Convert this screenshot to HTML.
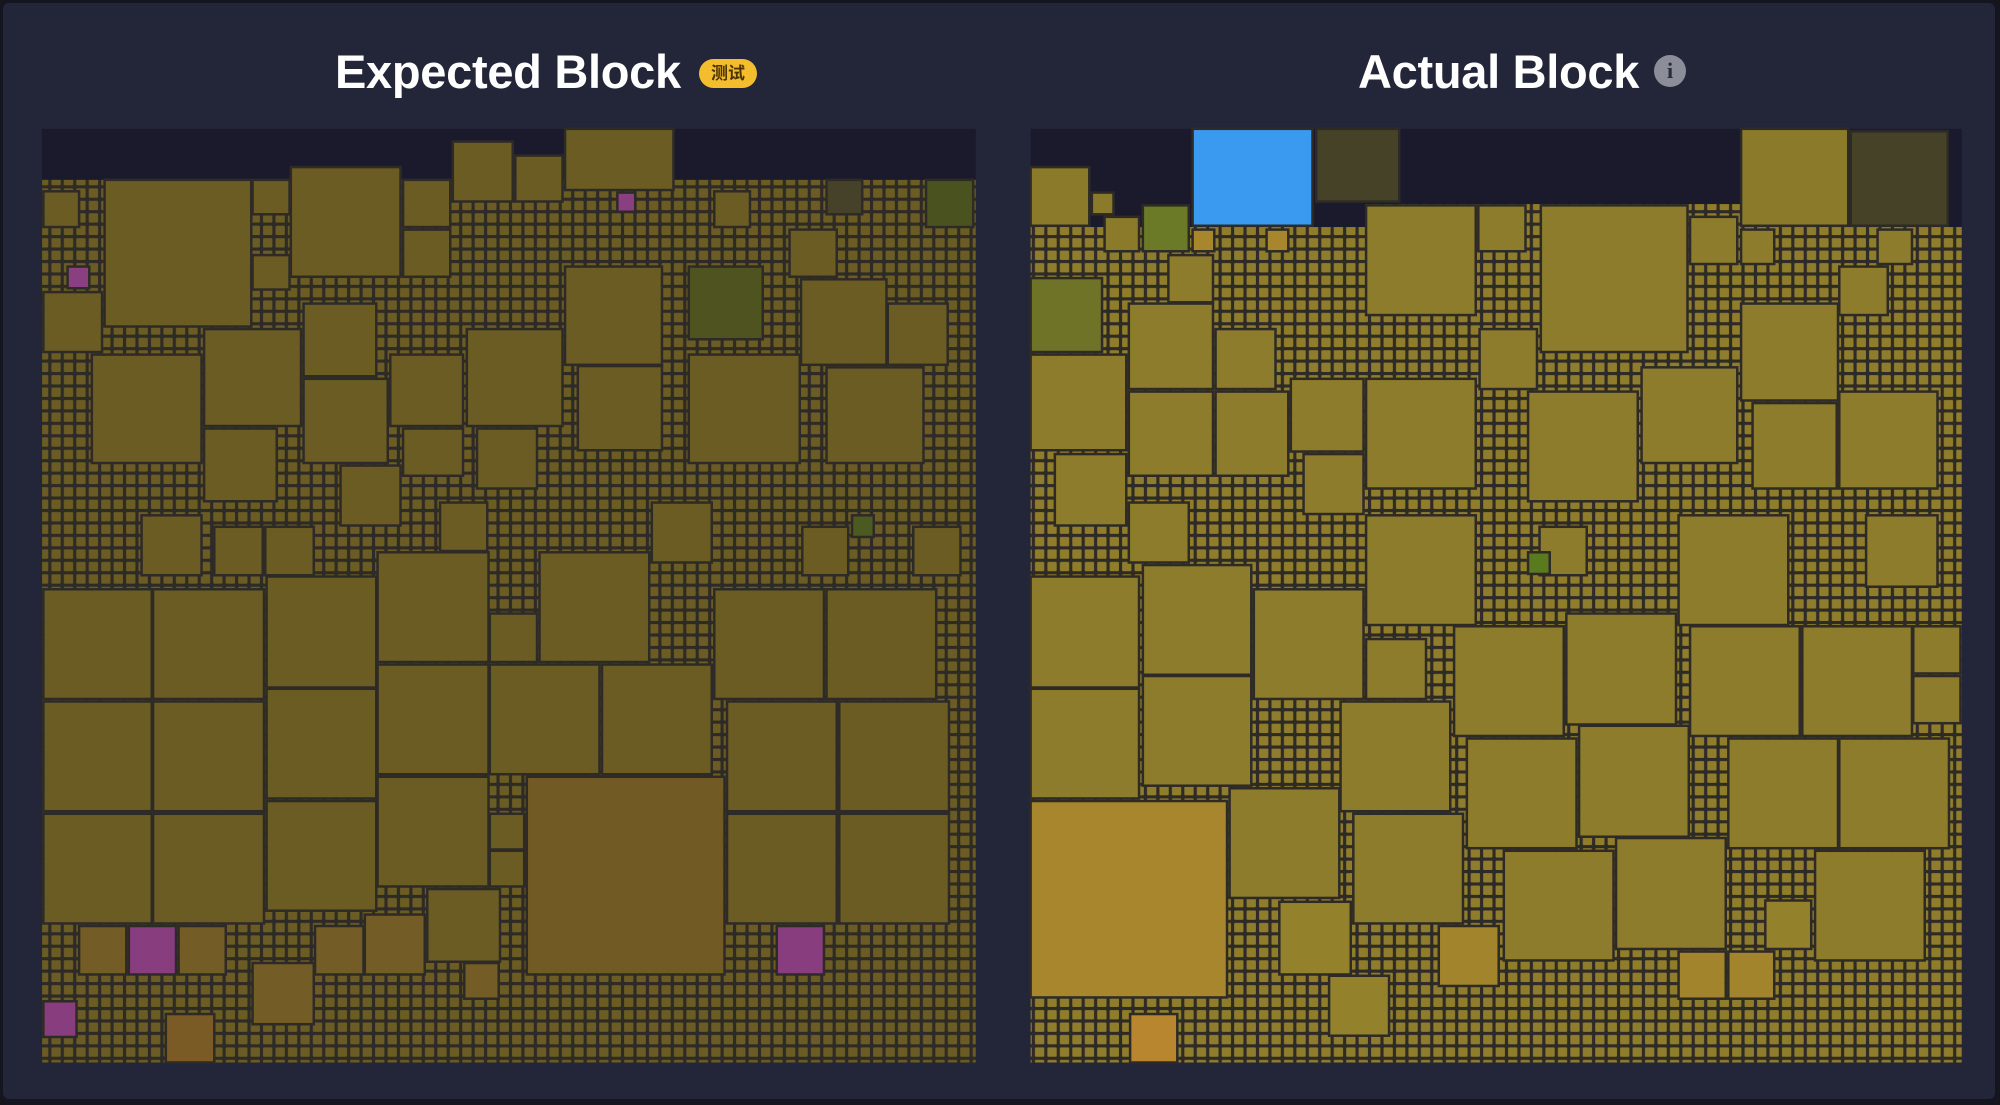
<!DOCTYPE html>
<html><head><meta charset="utf-8">
<style>
html,body{margin:0;padding:0;background:#14151f;}
body{width:2000px;height:1105px;overflow:hidden;font-family:"Liberation Sans","Noto Sans CJK SC",sans-serif;}
#frame{position:absolute;left:3px;top:3px;width:1992px;height:1096px;background:#232639;border-radius:6px;}
.title{position:absolute;top:44px;color:#fff;font-weight:bold;font-size:47px;letter-spacing:-0.3px;}
</style></head>
<body>
<div id="frame"></div>
<div class="title" style="left:335px">Expected Block</div>
<div style="position:absolute;left:699px;top:59px;width:58px;height:29px;border-radius:15px;background:#f3bd2e;color:#4a3400;font-size:17px;font-weight:bold;text-align:center;line-height:29px;">测试</div>
<div class="title" style="left:1358px">Actual Block</div>
<div style="position:absolute;left:1654px;top:55px;width:32px;height:32px;border-radius:50%;background:#8b8d99;color:#2a2c3a;font-size:22px;font-weight:bold;text-align:center;line-height:32px;font-family:'Liberation Serif',serif;">i</div>
<svg id="chart" width="2000" height="1105" style="position:absolute;left:0;top:0"></svg>
<script>
const S = 2000/1568;
// panel regions (thumbnail units)
const leftPanel = [33,101,765,833];
const rightPanel = [808,101,1538,833];
// tile-start skylines [x1,x2,yStart]
const leftSky = [[33,765,141]];
const rightSky = [[808,1071,178],[1071,1365,160],[1365,1538,178]];
// blocks [x1,y1,x2,y2,color]
const leftBlocks = [
[355,111,402,158,'#6b5c23'],[404,122,441,158,'#6b5c23'],[443,101,528,149,'#6b5c23'],
[82,141,197,256,'#6b5c23'],[228,131,314,217,'#6b5c23'],[316,141,353,178,'#6b5c23'],[316,180,353,217,'#6b5c23'],
[198,141,227,168,'#6b5c23'],[198,200,227,227,'#6b5c23'],[34,229,80,276,'#6b5c23'],[34,150,62,178,'#6b5c23'],
[443,209,519,286,'#6b5c23'],[540,209,598,266,'#4f5320'],[628,219,695,286,'#6b5c23'],[696,238,743,286,'#6b5c23'],
[560,150,588,178,'#6b5c23'],[619,180,656,217,'#6b5c23'],[726,141,763,178,'#4a5220'],[648,141,676,168,'#46422a'],
[238,238,295,295,'#6b5c23'],[160,258,236,334,'#6b5c23'],[72,278,158,363,'#6b5c23'],[366,258,441,334,'#6b5c23'],
[306,278,363,334,'#6b5c23'],[238,297,304,363,'#6b5c23'],[453,287,519,353,'#6b5c23'],[540,278,627,363,'#6b5c23'],
[648,288,724,363,'#6b5c23'],[160,336,217,393,'#6b5c23'],[316,336,363,373,'#6b5c23'],[374,336,421,383,'#6b5c23'],
[267,365,314,412,'#6b5c23'],[111,404,158,451,'#6b5c23'],[511,394,558,441,'#6b5c23'],[716,413,753,451,'#6b5c23'],
[629,413,665,451,'#6b5c23'],[208,413,246,451,'#6b5c23'],[168,413,206,451,'#6b5c23'],[345,394,382,432,'#6b5c23'],
[296,433,383,519,'#6b5c23'],[423,433,509,519,'#6b5c23'],[34,462,119,548,'#6b5c23'],[120,462,207,548,'#6b5c23'],
[209,452,295,539,'#6b5c23'],[560,462,646,548,'#6b5c23'],[648,462,734,548,'#6b5c23'],[384,481,421,519,'#6b5c23'],
[34,550,119,636,'#6b5c23'],[120,550,207,636,'#6b5c23'],[209,540,295,626,'#6b5c23'],[296,521,383,607,'#6b5c23'],
[384,521,470,607,'#6b5c23'],[472,521,558,607,'#6b5c23'],[570,550,656,636,'#6b5c23'],[658,550,744,636,'#6b5c23'],
[34,638,119,724,'#6b5c23'],[120,638,207,724,'#6b5c23'],[209,628,295,714,'#6b5c23'],[296,609,383,695,'#6b5c23'],
[413,609,568,764,'#715a24'],[570,638,656,724,'#6b5c23'],[658,638,744,724,'#6b5c23'],[384,638,411,666,'#6b5c23'],
[384,667,411,695,'#6b5c23'],[335,697,392,754,'#6b5c23'],[286,717,333,764,'#735c25'],[247,726,285,764,'#735c25'],
[62,726,99,764,'#735c25'],[140,726,177,764,'#735c25'],[101,726,138,764,'#873d7e'],[609,726,646,764,'#873d7e'],
[198,755,246,803,'#735c25'],[130,795,168,833,'#7a5a25'],[34,785,60,813,'#873d7e'],[364,755,391,783,'#735c25'],
[668,404,685,421,'#4a5a20'],[484,151,498,166,'#8a3f80'],[53,209,70,226,'#8a3f80']
];
const rightBlocks = [
[935,101,1029,177,'#3a9af0'],[1032,101,1097,158,'#464227'],[1365,101,1449,177,'#8a7a2a'],[1451,103,1527,177,'#464227'],
[808,131,854,177,'#8a7a2a'],[856,151,873,168,'#8a7a2a'],[866,170,893,197,'#8a7a2a'],[896,161,932,197,'#6a7a26'],
[935,180,952,197,'#a8862e'],[993,180,1010,197,'#a8862e'],
[808,218,864,276,'#6f7328'],[808,278,883,353,'#8d7c2b'],[1071,161,1157,247,'#8d7c2b'],[1159,161,1196,197,'#8d7c2b'],
[1208,161,1323,276,'#8d7c2b'],[1325,170,1362,207,'#8d7c2b'],[1365,180,1391,207,'#8d7c2b'],[1472,180,1499,207,'#8d7c2b'],
[1442,209,1480,247,'#8d7c2b'],[1160,258,1205,305,'#8d7c2b'],[885,238,951,305,'#8d7c2b'],[953,258,1000,305,'#8d7c2b'],
[916,200,951,237,'#8d7c2b'],[1365,238,1441,314,'#8d7c2b'],[1287,288,1362,363,'#8d7c2b'],[1198,307,1284,393,'#8d7c2b'],
[1071,297,1157,383,'#8d7c2b'],[1012,297,1069,354,'#8d7c2b'],[885,307,951,373,'#8d7c2b'],[953,307,1010,373,'#8d7c2b'],
[1374,316,1440,383,'#8d7c2b'],[1442,307,1519,383,'#8d7c2b'],[827,356,883,412,'#8d7c2b'],[808,452,893,539,'#8d7c2b'],
[896,443,981,529,'#8d7c2b'],[983,462,1069,548,'#8d7c2b'],[885,394,932,441,'#8d7c2b'],[1022,356,1069,403,'#8d7c2b'],
[1071,404,1157,490,'#8d7c2b'],[1316,404,1402,490,'#8d7c2b'],[808,540,893,626,'#8d7c2b'],[896,530,981,616,'#8d7c2b'],
[1140,491,1226,577,'#8d7c2b'],[1228,481,1314,568,'#8d7c2b'],[1325,491,1411,577,'#8d7c2b'],[1413,491,1499,577,'#8d7c2b'],
[1051,550,1137,636,'#8d7c2b'],[1071,501,1118,548,'#8d7c2b'],[1150,579,1236,665,'#8d7c2b'],[1238,569,1324,656,'#8d7c2b'],
[1355,579,1441,665,'#8d7c2b'],[1442,579,1528,665,'#8d7c2b'],[964,618,1050,704,'#8d7c2b'],[1061,638,1147,724,'#8d7c2b'],
[1179,667,1265,753,'#8d7c2b'],[1267,657,1353,744,'#8d7c2b'],[1423,667,1509,753,'#8d7c2b'],[808,628,962,782,'#a7862d'],
[1003,707,1059,764,'#94812b'],[1128,726,1175,773,'#a1842c'],[1042,765,1089,812,'#94812b'],[886,795,923,833,'#b8862f'],
[1384,706,1420,744,'#94812b'],[1316,746,1353,783,'#a1842c'],[1355,746,1391,783,'#a1842c'],[1207,413,1244,451,'#8d7c2b'],
[1198,433,1215,450,'#5a7a20'],[1463,404,1519,460,'#8d7c2b'],[1500,491,1537,528,'#8d7c2b'],[1500,530,1537,567,'#8d7c2b']
];
const leftTile = '#6b5c23', rightTile = '#8f7d2b';
const svg = document.getElementById('chart');
const NS = 'http://www.w3.org/2000/svg';
const px = v => v*S;
function mk(tag, attrs){const e=document.createElementNS(NS,tag);for(const k in attrs)e.setAttribute(k,attrs[k]);return e;}
function defPattern(id,color){
  const p=mk('pattern',{id:id,x:0,y:0,width:12.45,height:12.45,patternUnits:'userSpaceOnUse'});
  p.appendChild(mk('rect',{x:0,y:0,width:12.45,height:12.45,fill:'#2e2b27'}));
  p.appendChild(mk('rect',{x:1.6,y:1.6,width:9.3,height:9.3,fill:color,rx:1}));
  return p;
}
const defs=mk('defs',{});
defs.appendChild(defPattern('tl',leftTile));
defs.appendChild(defPattern('tr',rightTile));
svg.appendChild(defs);
function drawPanel(panel, sky, blocks, pat, name){
  const g=mk('g',{});
  
  
  const bg=mk('rect',{x:px(panel[0]),y:px(panel[1]),width:px(panel[2]-panel[0]),height:px(panel[3]-panel[1]),fill:'#1a1a2c'});
  
  
  g.appendChild(bg);
  sky.forEach(s=>{
    const t=mk('rect',{x:px(s[0]),y:px(s[2]),width:px(s[1]-s[0]),height:px(panel[3]-s[2]),fill:'url(#'+pat+')'});
    
    
    g.appendChild(t);
  });
  blocks.forEach(b=>{
    const r=mk('rect',{x:px(b[0]),y:px(b[1]),width:px(b[2]-b[0]),height:px(b[3]-b[1]),fill:b[4],stroke:'#2e2b27','stroke-width':2.5});
    
    
    g.appendChild(r);
  });
  svg.appendChild(g);
}
drawPanel(leftPanel,leftSky,leftBlocks,'tl','expected-block-map');
drawPanel(rightPanel,rightSky,rightBlocks,'tr','actual-block-map');
</script>
</body></html>
